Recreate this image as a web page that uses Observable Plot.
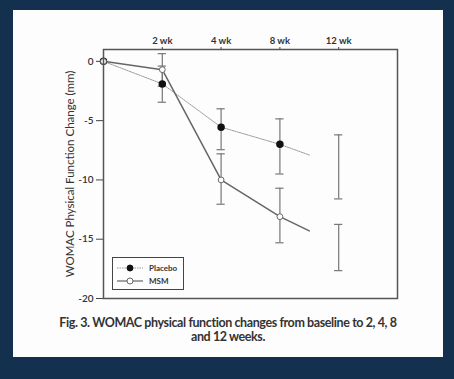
<!DOCTYPE html>
<html><head><meta charset="utf-8">
<script src="https://cdn.jsdelivr.net/npm/d3@7"></script>
<script src="https://cdn.jsdelivr.net/npm/@observablehq/plot@0.6"></script>
<style>
html,body{margin:0;padding:0;}
body{width:454px;height:379px;background:#13304f;position:relative;overflow:hidden;font-family:Lato,"Open Sans",sans-serif;}
#card{position:absolute;left:13px;top:10px;width:430px;height:347px;background:#fdfdfd;}
#chart{position:absolute;left:0;top:0;}
#legend{position:absolute;left:99px;top:247px;width:72px;height:33px;border:1.5px solid #444;box-sizing:border-box;background:#fdfdfd;font-size:8px;font-weight:700;color:#333;}
#legend .row{position:absolute;left:0;height:12px;display:flex;align-items:center;}
#legend svg{display:block;}
#caption{position:absolute;left:0;top:306px;width:430px;text-align:center;font-size:12.5px;font-weight:700;color:#333;line-height:14px;letter-spacing:-0.4px;}
</style></head>
<body>
<div id="card">
  <div id="chart"></div>
  <div id="legend"></div>
  <div id="caption"></div>
</div>
<script>
// ---- data ----
const weekLabels = ["2 wk", "4 wk", "8 wk", "12 wk"];
const weekPos = [1, 2, 3, 4];
const yTicks = [0, -5, -10, -15, -20];
const seriesNames = ["Placebo", "MSM"];
const yLabel = "WOMAC Physical Function Change (mm)";
const captionLines = ["Fig. 3. WOMAC physical function changes from baseline to 2, 4, 8", "and 12 weeks."];

// line positions (baseline = 0, then weeks); the last point of each line is an unmarked tail
const placeboPos = [0, 1, 2, 3, 3.5];
const placeboMean = [0, -1.9, -5.55, -7.0, -7.9];
const msmPos = [0, 1, 2, 3, 3.5];
const msmMean = [0, -0.7, -10.0, -13.1, -14.3];
const markedCount = 4;

// error bars (lower, upper) at weekPos
const placeboLow = [-3.45, -7.45, -9.5, -11.6];
const placeboHigh = [-0.4, -4.0, -4.85, -6.2];
const msmLow = [-2.1, -12.05, -15.3, -17.65];
const msmHigh = [0.65, -7.8, -10.7, -13.75];

// ---- build ----
const placebo = placeboPos.map((x, i) => ({x, y: placeboMean[i]}));
const msm = msmPos.map((x, i) => ({x, y: msmMean[i]}));
const errs = [
  ...weekPos.map((x, i) => ({x, lo: placeboLow[i], hi: placeboHigh[i]})),
  ...weekPos.map((x, i) => ({x, lo: msmLow[i], hi: msmHigh[i]}))
];
const caps = errs.flatMap(d => [{x: d.x, y: d.lo}, {x: d.x, y: d.hi}]);
const capHalf = 0.07;

const plot = Plot.plot({
  width: 430,
  height: 300,
  marginLeft: 90,
  marginRight: 46,
  marginTop: 39,
  marginBottom: 12,
  style: {fontFamily: "Lato, 'Open Sans', sans-serif", fontSize: "10px", background: "transparent", color: "#333"},
  x: {domain: [0, 5]},
  y: {domain: [-20, 1]},
  marks: [
    Plot.axisX({anchor: "top", ticks: weekPos, tickFormat: d => weekLabels[weekPos.indexOf(d)], tickSize: 3, tickPadding: 3, label: null, stroke: "#444", fontWeight: 700, fontSize: 9.5}),
    Plot.axisY({ticks: yTicks, tickFormat: d => String(d), tickSize: 7, tickPadding: 3, stroke: "#444", fontWeight: 600, fontSize: 10, label: null}),
    Plot.axisY({ticks: [], label: yLabel, labelAnchor: "center", labelOffset: 38, labelArrow: "none", fontSize: 11.5, fill: "#333"}),
    Plot.ruleX(errs, {x: "x", y1: "lo", y2: "hi", stroke: "#777", strokeWidth: 1.2}),
    Plot.ruleY(caps, {y: "y", x1: d => d.x - capHalf, x2: d => d.x + capHalf, stroke: "#777", strokeWidth: 1.2}),
    Plot.line(placebo, {x: "x", y: "y", stroke: "#9a9a9a", strokeWidth: 1, strokeDasharray: "1.5,1"}),
    Plot.line(msm, {x: "x", y: "y", stroke: "#666", strokeWidth: 1.5}),
    Plot.dot(placebo.slice(0, markedCount), {x: "x", y: "y", r: 3, fill: "#111", stroke: "#111"}),
    Plot.dot(msm.slice(0, markedCount), {x: "x", y: "y", r: 2.9, fill: "#fff", stroke: "#666", strokeWidth: 1}),
    Plot.frame({stroke: "#555", strokeWidth: 1.5})
  ]
});
document.getElementById("chart").appendChild(plot);

// legend
const legend = document.getElementById("legend");
seriesNames.forEach((name, i) => {
  const row = document.createElement("div");
  row.className = "row";
  row.style.top = (4 + i * 13) + "px";
  const filled = i === 0;
  row.innerHTML = `<svg width="34" height="12"><line x1="4" y1="6" x2="30" y2="6" stroke="${filled ? "#9a9a9a" : "#666"}" stroke-width="${filled ? 1 : 1.2}" ${filled ? 'stroke-dasharray="1.5,1"' : ""}/><circle cx="17" cy="6" r="3" fill="${filled ? "#111" : "#fff"}" stroke="${filled ? "#111" : "#666"}"/></svg><span style="margin-left:2px">${name}</span>`;
  legend.appendChild(row);
});

document.getElementById("caption").innerHTML = captionLines.join("<br>");
</script>
</body></html>
